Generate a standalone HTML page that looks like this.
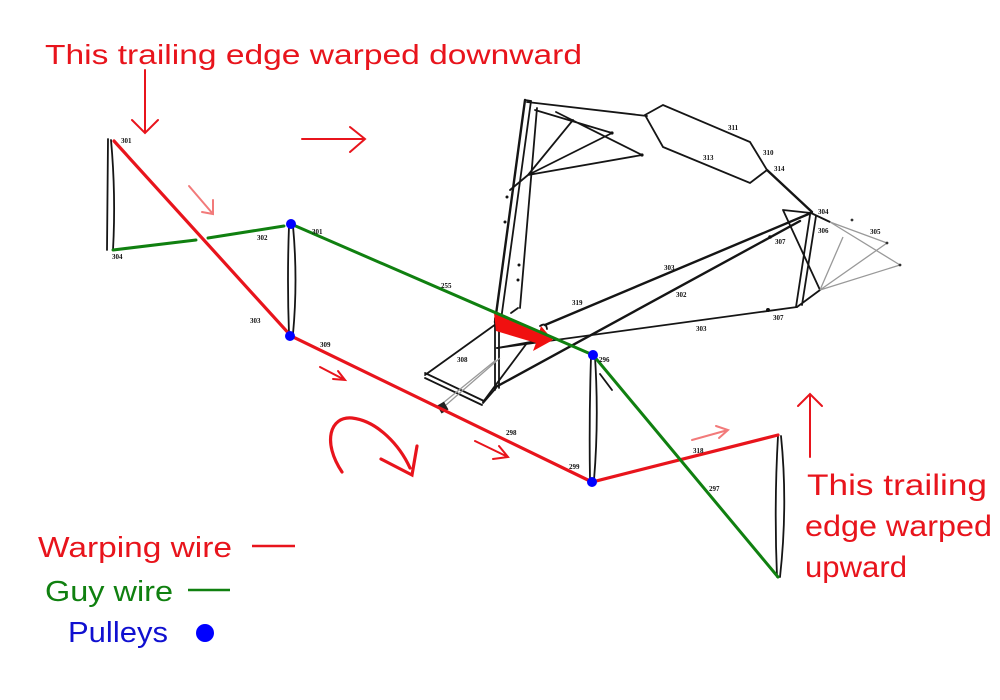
<!DOCTYPE html>
<html><head><meta charset="utf-8"><style>
html,body{margin:0;padding:0;background:#fff;}
svg{display:block;}
.k{stroke:#151515;stroke-width:1.8;fill:none;stroke-linecap:round;}
.kt{stroke:#151515;stroke-width:2.4;fill:none;stroke-linecap:round;}
.g{stroke:#999;stroke-width:1.3;fill:none;}
.r{stroke:#e8141c;stroke-width:3.2;fill:none;stroke-linecap:round;}
.ra{stroke:#e8141c;stroke-width:2;fill:none;stroke-linecap:round;}
.pa{stroke:#f27a7a;stroke-width:2;fill:none;stroke-linecap:round;}
.gr{stroke:#108010;stroke-width:3;fill:none;stroke-linecap:round;}
.lb{font-family:"Liberation Serif",serif;font-size:7px;font-weight:bold;fill:#111;}
.t{font-family:"Liberation Sans","DejaVu Sans",sans-serif;}
</style></head><body>
<svg width="1000" height="700" viewBox="0 0 1000 700" xmlns="http://www.w3.org/2000/svg">
<rect width="1000" height="700" fill="#fff"/>

<!-- struts -->
<path class="k" d="M108,139 L107,250"/>
<path class="k" d="M111,140 Q116,195 113,250"/>
<path class="k" d="M289,226 Q287,280 289,334"/>
<path class="k" d="M293,226 Q298,280 293,334"/>
<path class="k" d="M591,357 Q589,420 590,480"/>
<path class="k" d="M595,357 Q599,420 594,480"/>
<path class="k" d="M778,436 Q774,505 777,577"/>
<path class="k" d="M781,436 Q788,505 780,577"/>

<!-- aircraft: tall member -->
<path class="kt" d="M525,100 L495,322"/>
<path class="k" d="M531,101 L501,320"/>
<path class="k" d="M537,108 L520,308"/>
<path class="k" d="M525,100 L531,101"/>
<path class="k" d="M518,308 L511,313"/>
<circle cx="507" cy="197" r="1.5" fill="#111"/>
<circle cx="505" cy="222" r="1.5" fill="#111"/>
<circle cx="519" cy="265" r="1.5" fill="#111"/>
<circle cx="518" cy="280" r="1.5" fill="#111"/>
<!-- top edge to hexagon -->
<path class="k" d="M527,102 L647,116"/>
<!-- fan (front) -->
<path class="k" d="M528,175 L573,120 M528,175 L612,133 M528,175 L642,155 M535,110 L612,133 M556,112 L642,155 M528,175 L510,190"/>
<circle cx="612" cy="133" r="1.6" fill="#111"/><circle cx="642" cy="155" r="1.6" fill="#111"/>
<!-- hexagon -->
<path class="k" d="M645,115 L663,105 L750,142 L767,170 L750,183 L663,147 Z"/>
<path class="kt" d="M767,170 L812,212"/>
<text class="lb" x="728" y="130">311</text>
<text class="lb" x="703" y="160">313</text>
<text class="lb" x="763" y="155">310</text>
<text class="lb" x="774" y="171">314</text>

<!-- tail -->
<path class="kt" d="M545,325 L811,213"/>
<path class="kt" d="M494,388 L800,221"/>
<path class="k" d="M497,348 L797,307"/>
<path class="k" d="M783,210 L811,213 M783,210 L820,290"/>
<path class="k" d="M810,215 L796,307 M816,216 L802,305 M797,307 L820,290"/>
<path class="k" d="M811,213 L830,222"/>
<path class="g" d="M830,222 L900,265 M820,290 L887,243 M820,290 L900,265 M820,290 L843,237 M830,222 L887,243"/>
<circle cx="852" cy="220" r="1.4" fill="#333"/>
<circle cx="887" cy="243" r="1.4" fill="#333"/>
<circle cx="900" cy="265" r="1.4" fill="#333"/>
<circle cx="770" cy="237" r="1.8" fill="#111"/>
<circle cx="768" cy="310" r="2" fill="#111"/>
<text class="lb" x="664" y="270">303</text>
<text class="lb" x="676" y="297">302</text>
<text class="lb" x="572" y="305">319</text>
<text class="lb" x="696" y="331">303</text>
<text class="lb" x="775" y="244">307</text>
<text class="lb" x="773" y="320">307</text>
<text class="lb" x="818" y="214">304</text>
<text class="lb" x="818" y="233">306</text>
<text class="lb" x="870" y="234">305</text>

<!-- front elevator -->
<path class="k" d="M425,375 L496,324"/>
<path class="k" d="M425,373 L484,401 M425,378 L482,405"/>
<path class="k" d="M483,403 L496,388"/>
<path class="k" d="M495,318 L495,390 M499,318 L499,388"/>
<path class="k" d="M497,348 L553,338"/>
<path class="k" d="M483,402 L527,343"/>
<path class="g" d="M500,358 L446,405 M496,360 L443,403"/>
<rect x="439" y="403" width="8" height="9" fill="#222" transform="rotate(-30 443 408)"/>
<path class="k" d="M540,326 Q546,322 547,329"/>
<text class="lb" x="457" y="362">308</text>

<!-- thick red arrow -->
<polygon points="494,313 539,333 541,326 553,340 533,351 536,343 496,331" fill="#f01010"/>

<!-- red warping wire -->
<path class="r" d="M114,141 L291,336 L592,482 L778,435"/>
<!-- green guy wires -->
<path class="gr" d="M113,250 L196,240 M208,238 L284,226"/>
<path class="gr" d="M291,224 L593,355 L778,577"/>
<path class="k" d="M600,374 L612,390"/>

<!-- labels near wires -->
<text class="lb" x="121" y="143">301</text>
<text class="lb" x="112" y="259">304</text>
<text class="lb" x="257" y="240">302</text>
<text class="lb" x="312" y="234">301</text>
<text class="lb" x="250" y="323">303</text>
<text class="lb" x="320" y="347">309</text>
<text class="lb" x="441" y="288">255</text>
<text class="lb" x="599" y="362">296</text>
<text class="lb" x="506" y="435">298</text>
<text class="lb" x="569" y="469">299</text>
<text class="lb" x="693" y="453">318</text>
<text class="lb" x="709" y="491">297</text>

<!-- pulleys -->
<circle cx="291" cy="224" r="5" fill="#0000ff"/>
<circle cx="290" cy="336" r="5" fill="#0000ff"/>
<circle cx="593" cy="355" r="5" fill="#0000ff"/>
<circle cx="592" cy="482" r="5" fill="#0000ff"/>

<!-- red arrows -->
<path class="ra" d="M145,70 L145,133 M132,120 L145,133 L158,120"/>
<path class="ra" d="M302,139 L365,139 M350,127 L365,139 L350,152"/>
<path class="pa" d="M189,186 L213,214 M202,212 L213,214 L213,200"/>
<path class="ra" d="M320,367 L345,380 M333,379 L345,380 L338,371"/>
<path class="ra" d="M475,441 L508,457 M493,459 L508,457 L499,446"/>
<path class="pa" d="M692,440 L728,430 M716,426 L728,430 L719,438"/>
<path class="ra" d="M810,457 L810,394 M798,406 L810,394 L822,406"/>
<path class="r" stroke-width="3.6" d="M342,472 C322,442 330,416 352,418 C378,421 400,446 410,468"/>
<path class="r" stroke-width="3.6" d="M381,459 L412,475 L417,446"/>

<!-- text -->
<text class="t" x="45" y="64" font-size="28" fill="#e8141c" textLength="537" lengthAdjust="spacingAndGlyphs">This trailing edge warped downward</text>
<text class="t" x="807" y="495" font-size="30" fill="#e8141c" textLength="180" lengthAdjust="spacingAndGlyphs">This trailing</text>
<text class="t" x="805" y="536" font-size="30" fill="#e8141c" textLength="187" lengthAdjust="spacingAndGlyphs">edge warped</text>
<text class="t" x="805" y="577" font-size="30" fill="#e8141c" textLength="102" lengthAdjust="spacingAndGlyphs">upward</text>

<text class="t" x="38" y="557" font-size="29" fill="#e8141c" textLength="194" lengthAdjust="spacingAndGlyphs">Warping wire</text>
<path d="M252,546 L295,546" stroke="#e8141c" stroke-width="2.5"/>
<text class="t" x="45" y="601" font-size="29" fill="#108010" textLength="128" lengthAdjust="spacingAndGlyphs">Guy wire</text>
<path d="M188,590 L230,590" stroke="#108010" stroke-width="2.5"/>
<text class="t" x="68" y="642" font-size="29" fill="#1010d0" textLength="100" lengthAdjust="spacingAndGlyphs">Pulleys</text>
<circle cx="205" cy="633" r="9" fill="#0000ff"/>
</svg>
</body></html>
